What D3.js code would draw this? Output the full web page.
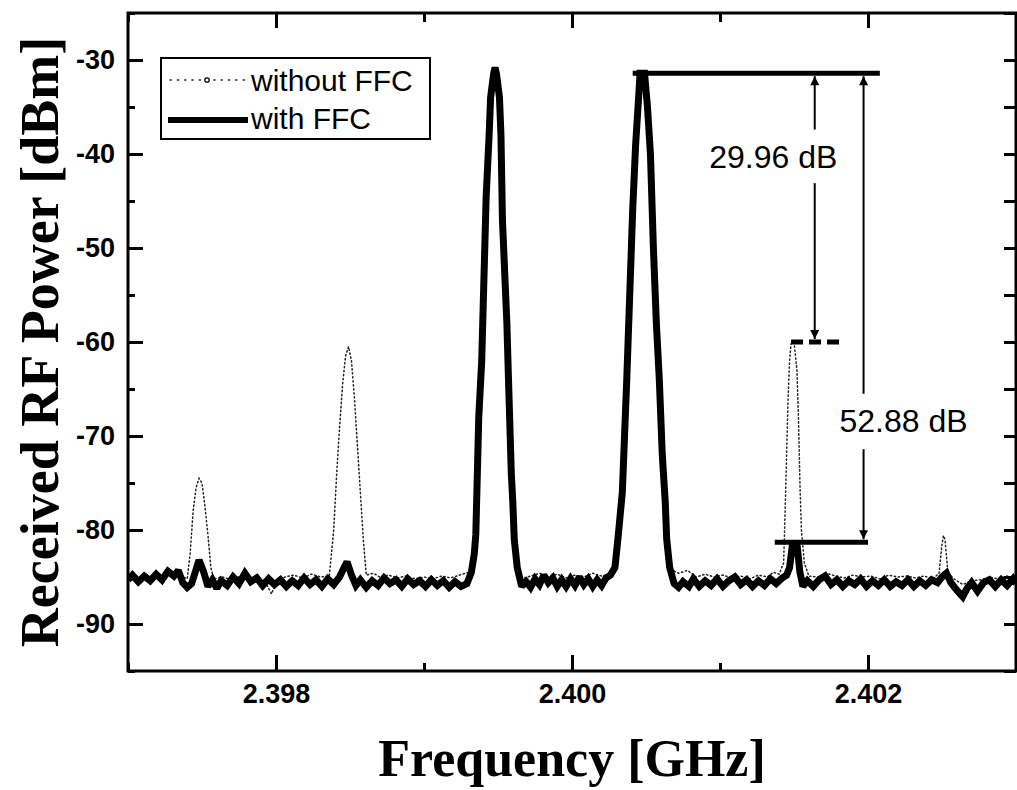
<!DOCTYPE html>
<html>
<head>
<meta charset="utf-8">
<script src="https://cdn.jsdelivr.net/npm/d3@7/dist/d3.min.js"></script>
<style>
  html, body { margin: 0; padding: 0; background: #fff; }
  svg { display: block; }
</style>
</head>
<body>
<svg id="chart" width="1017" height="790"></svg>
<script>
// ---------------- DATA ----------------
const xTicks = [2.398, 2.400, 2.402];
const xMinorTicks = [2.397, 2.399, 2.401, 2.403];
const yTicks = [-90, -80, -70, -60, -50, -40, -30];
const yMinorTicks = [-95, -85, -75, -65, -55, -45, -35, -25];
const seriesNames = ["without FFC", "with FFC"];

// with FFC: [frequency GHz, power dBm]
const withFFC = [
[2.39700,-85.3],[2.39703,-84.8],[2.39707,-85.5],[2.39711,-84.9],[2.39715,-85.4],[2.39719,-84.7],
[2.39723,-85.3],[2.39727,-84.4],[2.39731,-84.9],[2.39734,-84.3],[2.39737,-85.6],[2.39740,-86.1],
[2.39743,-85.7],[2.39746,-84.2],[2.39748,-83.2],[2.39751,-84.4],[2.39754,-86.0],[2.39757,-85.3],
[2.39760,-86.2],[2.39763,-85.4],[2.39767,-85.9],[2.39771,-85.0],[2.39775,-85.7],[2.39779,-84.6],
[2.39783,-85.5],[2.39787,-85.1],[2.39791,-85.9],[2.39795,-85.2],[2.39799,-85.8],[2.39803,-85.3],
[2.39807,-86.0],[2.39811,-85.4],[2.39815,-85.9],[2.39819,-85.1],[2.39823,-85.8],[2.39827,-85.3],
[2.39831,-86.0],[2.39835,-85.2],[2.39839,-85.8],[2.39843,-85.0],[2.39846,-84.0],[2.39848,-83.4],
[2.39851,-84.8],[2.39854,-85.9],[2.39857,-85.3],[2.39861,-86.1],[2.39865,-85.4],[2.39869,-85.9],
[2.39873,-85.1],[2.39877,-85.7],[2.39881,-85.3],[2.39885,-86.0],[2.39889,-85.2],[2.39893,-85.8],
[2.39897,-85.4],[2.39901,-86.0],[2.39905,-85.3],[2.39909,-85.9],[2.39913,-85.4],[2.39917,-86.1],
[2.39921,-85.5],[2.39925,-86.0],[2.39929,-85.7],[2.39932,-84.5],[2.39934,-82.5],
[2.39935,-80.5],[2.39937,-68.0],[2.39939,-62.0],[2.39942,-44.5],[2.39944,-38.0],[2.39945,-34.0],
[2.39947,-31.5],[2.39948,-30.8],[2.39949,-31.5],[2.39951,-34.0],[2.39952,-38.0],[2.39953,-47.0],
[2.39956,-58.0],[2.39957,-63.5],[2.39959,-74.0],[2.39960,-77.0],[2.39961,-81.0],[2.39963,-84.0],
[2.39966,-86.0],[2.39969,-85.5],[2.39972,-86.1],[2.39975,-85.2],[2.39978,-85.8],[2.39981,-84.8],
[2.39984,-85.6],[2.39987,-85.1],[2.39990,-86.0],[2.39993,-85.3],[2.39996,-86.0],[2.39999,-85.2],
[2.40002,-85.9],[2.40005,-85.0],[2.40008,-85.8],[2.40011,-85.2],[2.40014,-86.0],[2.40017,-85.3],
[2.40020,-85.9],[2.40023,-85.1],[2.40026,-84.8],[2.40029,-84.0],[2.40031,-81.0],
[2.40034,-76.0],[2.40037,-64.0],[2.40039,-55.0],[2.40041,-46.0],[2.40043,-39.0],[2.40045,-34.0],
[2.40046,-31.4],[2.40049,-31.4],[2.40051,-35.0],[2.40053,-40.0],[2.40055,-50.0],[2.40057,-58.0],
[2.40059,-64.0],[2.40061,-72.0],[2.40063,-77.0],[2.40064,-81.0],[2.40066,-84.0],[2.40069,-85.7],
[2.40072,-86.1],[2.40075,-85.5],[2.40079,-86.0],[2.40082,-85.2],[2.40086,-86.0],[2.40090,-85.4],
[2.40094,-85.9],[2.40098,-85.2],[2.40102,-86.0],[2.40106,-85.4],[2.40110,-85.0],[2.40114,-85.8],
[2.40118,-85.3],[2.40122,-86.0],[2.40126,-85.4],[2.40130,-85.9],[2.40134,-85.2],[2.40138,-85.7],
[2.40142,-85.1],[2.40145,-84.8],[2.40147,-84.0],[2.40149,-81.5],
[2.40152,-81.5],[2.40154,-84.5],[2.40156,-86.0],[2.40159,-85.4],[2.40163,-86.0],[2.40167,-85.3],
[2.40171,-84.9],[2.40175,-85.8],[2.40179,-85.3],[2.40183,-86.0],[2.40187,-85.4],[2.40191,-85.8],
[2.40195,-85.2],[2.40199,-86.0],[2.40203,-85.4],[2.40207,-85.9],[2.40211,-85.3],[2.40215,-86.0],
[2.40219,-85.5],[2.40223,-85.9],[2.40227,-85.3],[2.40231,-86.0],[2.40235,-85.4],[2.40239,-85.9],
[2.40243,-85.3],[2.40247,-85.6],[2.40250,-85.0],[2.40253,-84.6],[2.40256,-85.6],
[2.40260,-86.4],[2.40264,-87.1],[2.40267,-86.2],[2.40270,-85.6],[2.40274,-86.5],[2.40278,-85.6],
[2.40282,-85.3],[2.40286,-86.0],[2.40290,-85.3],[2.40294,-85.9],[2.40298,-85.2],[2.40300,-85.7]
];

// without FFC: [frequency GHz, power dBm]
const withoutFFC = [
[2.39700,-85.0],[2.39706,-84.9],[2.39712,-85.1],[2.39718,-84.7],[2.39724,-85.0],[2.39730,-84.5],
[2.39736,-84.9],[2.39740,-85.2],[2.39742,-82.5],[2.39744,-78.0],[2.39746,-75.5],[2.39748,-74.5],
[2.39750,-75.0],[2.39752,-77.5],[2.39754,-80.5],[2.39756,-84.0],[2.39758,-85.2],[2.39764,-85.0],
[2.39770,-85.3],[2.39776,-84.9],[2.39782,-85.1],[2.39788,-85.4],[2.39793,-85.6],[2.39797,-86.8],
[2.39800,-85.5],[2.39806,-85.0],[2.39812,-84.8],[2.39818,-85.1],[2.39824,-84.7],[2.39830,-85.0],
[2.39836,-84.9],[2.39839,-80.0],[2.39841,-74.0],[2.39843,-69.0],[2.39845,-64.5],[2.39847,-61.5],
[2.39849,-60.5],[2.39851,-62.0],[2.39853,-66.0],[2.39855,-71.0],[2.39857,-76.0],[2.39859,-81.0],
[2.39861,-84.8],[2.39866,-84.6],[2.39870,-85.0],[2.39876,-84.8],[2.39882,-85.1],[2.39888,-84.9],
[2.39894,-85.2],[2.39900,-85.0],[2.39906,-85.2],[2.39912,-84.9],[2.39918,-85.1],[2.39924,-84.8],
[2.39930,-84.5],[2.39933,-83.5],[2.39935,-80.5],[2.39937,-68.0],[2.39942,-44.5],[2.39945,-34.0],
[2.39948,-30.8],[2.39951,-34.0],[2.39953,-47.0],[2.39957,-63.5],[2.39960,-77.0],[2.39963,-84.0],
[2.39966,-85.2],[2.39972,-84.9],[2.39978,-84.6],[2.39984,-85.0],[2.39990,-84.7],[2.39996,-85.1],
[2.40002,-84.8],[2.40008,-85.0],[2.40014,-84.6],[2.40020,-84.9],[2.40026,-84.7],[2.40029,-84.0],
[2.40031,-81.0],[2.40037,-64.0],[2.40041,-46.0],[2.40045,-34.0],[2.40047,-31.4],[2.40049,-31.6],
[2.40053,-40.0],[2.40057,-58.0],[2.40061,-72.0],[2.40064,-81.0],[2.40067,-84.2],[2.40072,-84.6],
[2.40078,-84.3],[2.40084,-85.0],[2.40090,-84.7],[2.40096,-85.0],[2.40102,-84.8],[2.40108,-85.1],
[2.40114,-84.9],[2.40120,-85.2],[2.40126,-84.8],[2.40132,-85.0],[2.40136,-84.5],[2.40140,-84.7],
[2.40143,-83.5],[2.40144,-78.0],[2.40145,-72.0],[2.40146,-66.0],[2.40147,-62.0],[2.40148,-60.2],
[2.40150,-60.0],[2.40152,-63.0],[2.40153,-68.0],[2.40154,-75.0],[2.40155,-80.0],[2.40157,-83.5],
[2.40160,-84.9],[2.40166,-85.0],[2.40172,-84.6],[2.40178,-84.9],[2.40184,-85.1],[2.40190,-84.8],
[2.40196,-85.0],[2.40202,-84.9],[2.40208,-85.2],[2.40214,-84.8],[2.40220,-85.0],[2.40226,-84.9],
[2.40232,-85.1],[2.40238,-84.9],[2.40244,-85.2],[2.40248,-84.6],[2.40250,-81.5],[2.40251,-80.6],
[2.40252,-81.0],[2.40254,-84.5],[2.40258,-85.2],[2.40264,-85.8],[2.40270,-85.4],[2.40276,-85.3],
[2.40282,-85.0],[2.40288,-85.2],[2.40294,-84.9],[2.40300,-85.1]
];

// annotation values (data units)
const refLevels = { top: -31.4, dashed: -60.0, bottom: -81.3 };
const topLineF = [2.40041, 2.40208];
const dashedLineF = [2.40148, 2.40181];
const bottomLineF = [2.40137, 2.40200];
const arrow1 = { f: 2.40164, gap: [-37.4, -43.1], label: "29.96 dB", lf: 2.40136, lv: -41.5 };
const arrow2 = { f: 2.40197, gap: [-65.5, -71.4], label: "52.88 dB", lf: 2.40224, lv: -69.6 };

// ---------------- CHART ----------------
const svg = d3.select("#chart");
const L = 128, R = 1016, T = 13, B = 671;
const x = d3.scaleLinear().domain([2.397, 2.403]).range([L, R]);
const y = d3.scaleLinear().domain([-95, -25]).range([B, T]);

const defs = svg.append("defs");
defs.append("clipPath").attr("id", "clip")
  .append("rect").attr("x", L).attr("y", T).attr("width", R - L).attr("height", B - T);
defs.append("marker").attr("id", "arrow")
  .attr("viewBox", "0 0 10 10").attr("refX", 10).attr("refY", 5)
  .attr("markerUnits", "userSpaceOnUse").attr("markerWidth", 16).attr("markerHeight", 9)
  .attr("orient", "auto-start-reverse")
  .append("path").attr("d", "M0,0 L10,5 L0,10 Z").attr("fill", "#000");

const plot = svg.append("g").attr("clip-path", "url(#clip)");
const line = d3.line().x(d => x(d[0])).y(d => y(d[1]));

plot.append("path").datum(withoutFFC)
  .attr("d", line).attr("fill", "none")
  .attr("stroke", "#222").attr("stroke-width", 1.5)
  .attr("stroke-dasharray", "1.3,2.7").attr("stroke-linecap", "round");

plot.append("path").datum(withFFC)
  .attr("d", line).attr("fill", "none")
  .attr("stroke", "#000").attr("stroke-width", 7)
  .attr("stroke-linejoin", "miter").attr("stroke-miterlimit", 2);

// Axes (ticks inward)
const tickFont = "bold 27px 'Liberation Sans', Arial, sans-serif";
function styleAxis(g) {
  g.select(".domain").remove();
  g.selectAll(".tick line").attr("stroke", "#000").attr("stroke-width", 3);
  g.selectAll(".tick text").style("font", tickFont).attr("fill", "#000");
}
svg.append("g").attr("transform", `translate(0,${B})`)
  .call(d3.axisBottom(x).tickValues(xTicks).tickSize(-16).tickPadding(13).tickFormat(d3.format(".3f")))
  .call(styleAxis);
svg.append("g").attr("transform", `translate(0,${B})`)
  .call(d3.axisBottom(x).tickValues(xMinorTicks).tickSize(-8).tickFormat(""))
  .call(styleAxis);
svg.append("g").attr("transform", `translate(0,${T})`)
  .call(d3.axisTop(x).tickValues(xTicks).tickSize(-15).tickFormat(""))
  .call(styleAxis);
svg.append("g").attr("transform", `translate(0,${T})`)
  .call(d3.axisTop(x).tickValues(xMinorTicks).tickSize(-9).tickFormat(""))
  .call(styleAxis);
svg.append("g").attr("transform", `translate(${L},0)`)
  .call(d3.axisLeft(y).tickValues(yTicks).tickSize(-15).tickPadding(13).tickFormat(d => String(d)))
  .call(styleAxis);
svg.append("g").attr("transform", `translate(${L},0)`)
  .call(d3.axisLeft(y).tickValues(yMinorTicks).tickSize(-7).tickFormat(""))
  .call(styleAxis);
svg.append("g").attr("transform", `translate(${R},0)`)
  .call(d3.axisRight(y).tickValues(yTicks.concat(yMinorTicks)).tickSize(-12).tickFormat(""))
  .call(styleAxis);

// frame
svg.append("rect").attr("x", L).attr("y", T).attr("width", R - L).attr("height", B - T)
  .attr("fill", "none").attr("stroke", "#000").attr("stroke-width", 3);

// Annotations
const ann = svg.append("g");
function hline(f, v, w, dash) {
  const l = ann.append("line")
    .attr("x1", x(f[0])).attr("x2", x(f[1])).attr("y1", y(v)).attr("y2", y(v))
    .attr("stroke", "#000").attr("stroke-width", w);
  if (dash) l.attr("stroke-dasharray", dash);
}
hline(topLineF, refLevels.top, 5);
hline(dashedLineF, refLevels.dashed, 5, "12,6");
hline(bottomLineF, refLevels.bottom, 5);

function arrow(a, endV) {
  ann.append("line").attr("x1", x(a.f)).attr("x2", x(a.f))
    .attr("y1", y(a.gap[0])).attr("y2", y(refLevels.top) + 3)
    .attr("stroke", "#000").attr("stroke-width", 2).attr("marker-end", "url(#arrow)");
  ann.append("line").attr("x1", x(a.f)).attr("x2", x(a.f))
    .attr("y1", y(a.gap[1])).attr("y2", y(endV) - 3)
    .attr("stroke", "#000").attr("stroke-width", 2).attr("marker-end", "url(#arrow)");
  ann.append("text").attr("x", x(a.lf)).attr("y", y(a.lv))
    .attr("text-anchor", "middle")
    .style("font", "32px 'Liberation Sans', Arial, sans-serif").text(a.label);
}
arrow(arrow1, refLevels.dashed);
arrow(arrow2, refLevels.bottom);

// Legend
const lg = svg.append("g");
lg.append("rect").attr("x", 161).attr("y", 58).attr("width", 269).attr("height", 81)
  .attr("fill", "#fff").attr("stroke", "#000").attr("stroke-width", 2);
lg.append("line").attr("x1", 170).attr("x2", 248).attr("y1", 80).attr("y2", 80)
  .attr("stroke", "#222").attr("stroke-width", 1.4).attr("stroke-dasharray", "1.3,6").attr("stroke-linecap", "round");
lg.append("circle").attr("cx", 207).attr("cy", 80).attr("r", 2.2)
  .attr("fill", "#fff").attr("stroke", "#000").attr("stroke-width", 1.3);
lg.append("line").attr("x1", 168).attr("x2", 248).attr("y1", 120).attr("y2", 120)
  .attr("stroke", "#000").attr("stroke-width", 6);
lg.selectAll("text.lt").data(seriesNames).enter().append("text")
  .attr("x", 251).attr("y", (d, i) => 91 + i * 38)
  .style("font", "30px 'Liberation Sans', Arial, sans-serif").text(d => d);

// Axis titles
svg.append("text").attr("x", 572).attr("y", 776).attr("text-anchor", "middle")
  .style("font", "bold 52px 'Liberation Serif', 'Times New Roman', serif").text("Frequency [GHz]");
svg.append("text").attr("transform", "translate(58,342) rotate(-90)").attr("text-anchor", "middle")
  .style("font", "bold 54px 'Liberation Serif', 'Times New Roman', serif").text("Received RF Power [dBm]");
</script>
</body>
</html>
